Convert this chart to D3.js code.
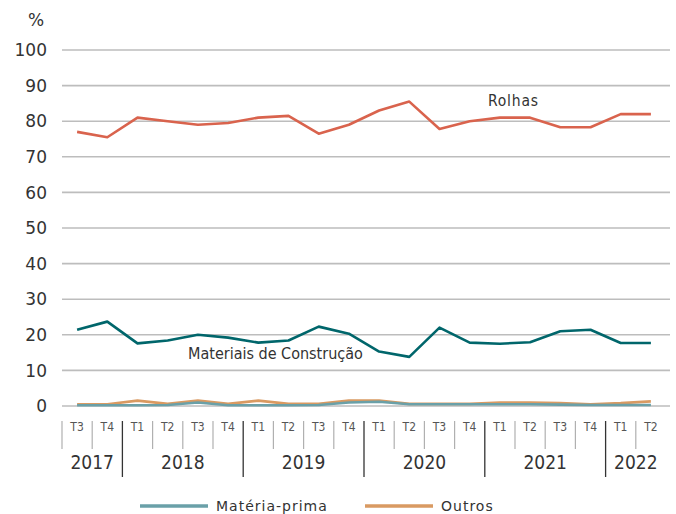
<!DOCTYPE html>
<html>
<head>
<meta charset="utf-8">
<style>
  body { margin: 0; background: #fff; }
  text { font-family: "DejaVu Sans", sans-serif; fill: #333; }
  .narrow { font-family: "Liberation Sans Narrow", "DejaVu Sans Condensed", sans-serif; }
</style>
</head>
<body>
<svg id="chart" width="676" height="514"></svg>
<script src="https://cdn.jsdelivr.net/npm/d3@7"></script>
<script>
const quarters = ['T3', 'T4', 'T1', 'T2', 'T3', 'T4', 'T1', 'T2', 'T3', 'T4',
  'T1', 'T2', 'T3', 'T4', 'T1', 'T2', 'T3', 'T4', 'T1', 'T2']
const years = ['2017', '2017', '2018', '2018', '2018', '2018', '2019', '2019', '2019', '2019',
  '2020', '2020', '2020', '2020', '2021', '2021', '2021', '2021', '2022', '2022']
const yTicks = [0, 10, 20, 30, 40, 50, 60, 70, 80, 90, 100]

const rolhas = [77, 75.5, 81, 80, 79, 79.5, 81, 81.5, 76.5, 79,
  83, 85.5, 77.8, 80, 81, 81, 78.3, 78.3, 82, 82]
const construcao = [21.4, 23.7, 17.6, 18.4, 20, 19.2, 17.8, 18.4, 22.3, 20.3,
  15.3, 13.8, 22, 17.8, 17.5, 17.9, 21, 21.4, 17.7, 17.7]
const materiaPrima = [0.2, 0.2, 0.2, 0.3, 1.0, 0.2, 0.2, 0.2, 0.3, 1.0,
  1.2, 0.5, 0.5, 0.5, 0.5, 0.5, 0.4, 0.3, 0.3, 0.3]
const outros = [0.5, 0.5, 1.5, 0.6, 1.5, 0.6, 1.5, 0.6, 0.6, 1.5,
  1.5, 0.6, 0.6, 0.6, 1.0, 1.0, 0.8, 0.5, 0.8, 1.3]

const series = [
  { name: 'Outros', values: outros, color: '#d99a62' },
  { name: 'Matéria-prima', values: materiaPrima, color: '#6aa0a8' },
  { name: 'Materiais de Construção', values: construcao, color: '#00666b' },
  { name: 'Rolhas', values: rolhas, color: '#d9634d' }
]

const svg = d3.select('#chart')
const idx = d3.range(quarters.length)

const x = d3.scaleBand().domain(idx).range([62, 666])
const y = d3.scaleLinear().domain([0, 100]).range([406, 50])

// grid
svg.append('g').selectAll('line').data(yTicks).join('line')
  .attr('x1', 62).attr('x2', 670)
  .attr('y1', d => y(d)).attr('y2', d => y(d))
  .attr('stroke', '#bdbdbd').attr('stroke-width', 1.6)

svg.append('g').selectAll('text').data(yTicks).join('text')
  .attr('x', 47).attr('y', d => y(d))
  .attr('dy', '0.36em')
  .attr('text-anchor', 'end')
  .style('font-size', '17px')
  .text(d => d)

svg.append('text').attr('x', 36).attr('y', 26)
  .attr('text-anchor', 'middle').style('font-size', '17px').text('%')

// lines
const line = d3.line().x((d, i) => x(i) + x.bandwidth() / 2).y(d => y(d))
svg.append('g').selectAll('path').data(series).join('path')
  .attr('d', d => line(d.values))
  .attr('fill', 'none')
  .attr('stroke', d => d.color)
  .attr('stroke-width', 2.6)
  .attr('stroke-linejoin', 'round')

// x axis: quarter labels and separators
const axis = svg.append('g')
axis.selectAll('text.q').data(idx).join('text')
  .attr('class', 'q narrow')
  .attr('x', i => x(i) + x.bandwidth() / 2).attr('y', 431)
  .attr('text-anchor', 'middle')
  .style('font-size', '12px').style('fill', '#555')
  .text(i => quarters[i])

const isYearStart = i => i > 0 && years[i] !== years[i - 1]
axis.selectAll('line.sep').data(idx).join('line')
  .attr('class', 'sep')
  .attr('x1', i => x(i)).attr('x2', i => x(i))
  .attr('y1', 421)
  .attr('y2', i => isYearStart(i) ? 477 : 449)
  .attr('stroke', i => isYearStart(i) ? '#333' : '#b0b0b0')
  .attr('stroke-width', i => isYearStart(i) ? 1.3 : 1.2)

const yearGroups = d3.groups(idx, i => years[i])
axis.selectAll('text.yr').data(yearGroups).join('text')
  .attr('class', 'yr narrow')
  .attr('x', d => (x(d[1][0]) + x(d[1][d[1].length - 1]) + x.bandwidth()) / 2)
  .attr('y', 469)
  .attr('text-anchor', 'middle')
  .style('font-size', '19px')
  .text(d => d[0])

// direct labels
svg.append('text').attr('class', 'narrow').attr('x', 488).attr('y', 106)
  .style('font-size', '15.5px').style('letter-spacing', '0.8px')
  .text('Rolhas')
svg.append('text').attr('class', 'narrow').attr('x', 188).attr('y', 359)
  .style('font-size', '16px')
  .text('Materiais de Construção')

// legend
const legendItems = [series[1], series[0]]
const lg = svg.append('g').selectAll('g').data(legendItems).join('g')
  .attr('transform', (d, i) => `translate(${i === 0 ? 140 : 365},506)`)
lg.append('line').attr('x1', 0).attr('x2', 68)
  .attr('stroke', d => d.color).attr('stroke-width', 3.5)
lg.append('text').attr('x', 76).attr('dy', '0.36em')
  .style('font-size', '14px').style('letter-spacing', '1px')
  .text(d => d.name)
</script>
</body>
</html>
